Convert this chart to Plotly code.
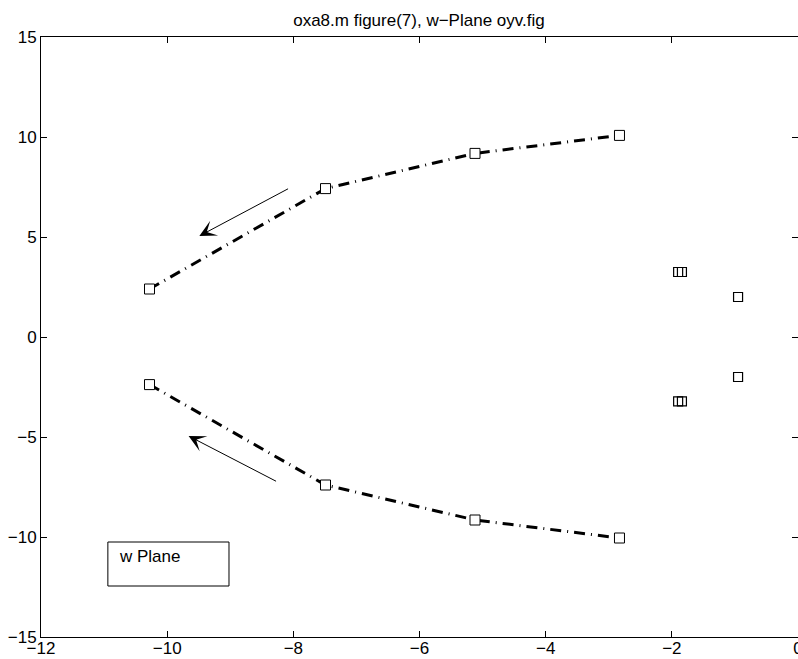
import plotly.graph_objects as go

# Branch data (w-plane root locus)
upper_x = [-10.28, -7.49, -5.12, -2.83]
upper_y = [2.4, 7.42, 9.18, 10.08]
lower_x = [-10.28, -7.49, -5.12, -2.83]
lower_y = [-2.38, -7.4, -9.15, -10.05]

# Fixed poles/zeros on the right
pts_x = [-1.90, -1.84, -0.95, -0.95, -1.90, -1.84]
pts_y = [3.25, 3.25, 2.0, -2.0, -3.22, -3.22]

# Arrow annotations (tail -> head) in data coords
arrow_tail_x = [-8.06, -8.25]
arrow_tail_y = [7.45, -7.25]
arrow_head_x = [-9.49, -9.66]
arrow_head_y = [5.05, -4.95]

x_ticks = [-12, -10, -8, -6, -4, -2, 0]
y_ticks = [-15, -10, -5, 0, 5, 10, 15]

FONT = "Liberation Sans, Arial, Helvetica, sans-serif"

fig = go.Figure()
line_style = dict(color="black", width=3, dash="11px,6px,1px,6px")
marker_style = dict(symbol="square", size=10, color="white",
                    line=dict(color="black", width=1))
for xs, ys in [(upper_x, upper_y), (lower_x, lower_y)]:
    fig.add_trace(go.Scatter(x=xs, y=ys, mode="lines+markers",
                             line=line_style, marker=marker_style,
                             showlegend=False))
fig.add_trace(go.Scatter(x=pts_x, y=pts_y, mode="markers",
                         marker=dict(symbol="square-open", size=9, color="black",
                                     line=dict(color="black", width=1.2)),
                         showlegend=False))

for tx, ty, hx, hy in zip(arrow_tail_x, arrow_tail_y, arrow_head_x, arrow_head_y):
    fig.add_annotation(x=hx, y=hy, ax=tx, ay=ty, xref="x", yref="y",
                       axref="x", ayref="y", text="", showarrow=True,
                       arrowhead=3, arrowsize=2.8, arrowwidth=1, arrowcolor="black")

# "w Plane" label box
fig.add_shape(type="rect", xref="x", yref="y", x0=-10.94, x1=-9.02,
              y0=-12.45, y1=-10.25, line=dict(color="black", width=1),
              fillcolor="white")
fig.add_annotation(x=-10.8, y=-10.95, xref="x", yref="y", text="w Plane",
                   showarrow=False, xanchor="left", yanchor="middle",
                   font=dict(family=FONT, size=17, color="black"))

axis_common = dict(showgrid=False, zeroline=False, showline=True,
                   linecolor="black", linewidth=1, mirror="allticks",
                   ticks="inside", ticklen=6, tickcolor="black",
                   ticklabeloverflow="allow", automargin=False,
                   tickfont=dict(family=FONT, size=17, color="black"))
fig.update_xaxes(range=[-12, 0], tickvals=x_ticks, ticklabelstandoff=-4, **axis_common)
fig.update_yaxes(range=[-15, 15], tickvals=y_ticks, **axis_common)

fig.update_layout(
    width=798, height=659,
    margin=dict(l=41, r=0, t=37, b=22),
    paper_bgcolor="white", plot_bgcolor="white",
    title=dict(text="oxa8.m figure(7), w\u2212Plane oyv.fig", x=0.525, xanchor="center",
               y=1 - 20 / 659, yanchor="middle",
               font=dict(family=FONT, size=17, color="black")),
)

fig.write_html("out.html")
